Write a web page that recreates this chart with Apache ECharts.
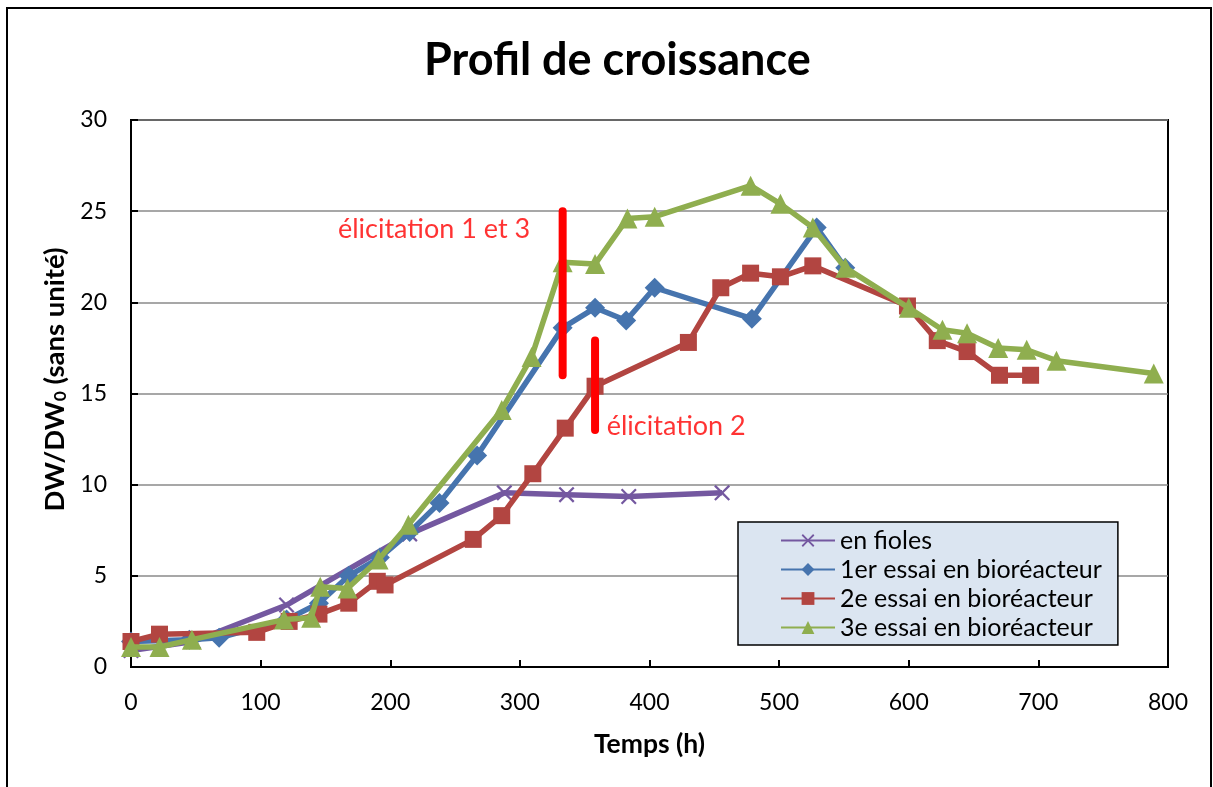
<!DOCTYPE html>
<html>
<head>
<meta charset="utf-8">
<script src="https://cdn.jsdelivr.net/npm/echarts@6/dist/echarts.min.js"></script>
<style>
  html, body { margin: 0; padding: 0; background: #fff; }
  #chart { width: 1213px; height: 787px; }
</style>
</head>
<body>
<div id="chart"></div>
<script>
// Growth profile: DW/DW0 versus time (h) for flasks and three bioreactor runs
const seriesNames = ['en fioles', '1er essai en bioréacteur', '2e essai en bioréacteur', '3e essai en bioréacteur'];

const tempsFioles = [0, 48, 120, 215, 288, 336, 384, 456];
const dwFioles    = [0.9, 1.4, 3.4, 7.3, 9.55, 9.45, 9.35, 9.55];

const tempsEssai1 = [0, 45, 68, 120, 145, 168, 192, 215, 238, 267, 333, 358, 382, 404, 479, 529, 551];
const dwEssai1    = [1.4, 1.5, 1.6, 2.6, 3.5, 5.0, 6.0, 7.4, 9.0, 11.6, 18.6, 19.7, 19.0, 20.8, 19.1, 24.1, 21.9];

const tempsEssai2 = [0, 22, 97, 122, 145, 168, 190, 196, 264, 286, 310, 335, 358, 430, 455, 478, 501, 526, 599, 622, 645, 670, 694];
const dwEssai2    = [1.4, 1.8, 1.9, 2.5, 2.9, 3.5, 4.7, 4.5, 7.0, 8.3, 10.6, 13.1, 15.4, 17.8, 20.8, 21.6, 21.4, 22.0, 19.8, 17.9, 17.3, 16.0, 16.0];

const tempsEssai3 = [0, 22, 47, 118, 139, 146, 167, 191, 214, 286, 309, 333, 358, 383, 404, 478, 501, 526, 551, 600, 626, 645, 669, 691, 714, 789];
const dwEssai3    = [1.1, 1.1, 1.5, 2.6, 2.7, 4.4, 4.3, 5.9, 7.8, 14.1, 17.0, 22.2, 22.1, 24.6, 24.7, 26.4, 25.4, 24.1, 21.9, 19.7, 18.5, 18.3, 17.5, 17.4, 16.8, 16.1];

// Elicitation markers (time, start value, end value)
const elicitation13 = { t: 333, from: 16.0, to: 25.0, label: 'élicitation 1 et 3', labelAt: [308, 24.0] };
const elicitation2  = { t: 358, from: 13.0, to: 17.9, label: 'élicitation 2', labelAt: [367, 13.2] };

const xTicks = { min: 0, max: 800, interval: 100 };
const yTicks = { min: 0, max: 30, interval: 5 };

const colors = ['#7458a0', '#4674ae', '#b24541', '#8fae4f'];
const FONT = 'Lato, "Liberation Sans", sans-serif';

const pairs = (xs, ys) => xs.map((x, i) => [x, ys[i]]);
const crossPath = 'path://M0,1 L1,0 L5,4 L9,0 L10,1 L6,5 L10,9 L9,10 L5,6 L1,10 L0,9 L4,5 Z';

function lineSeries(name, data, color, symbol, size, z) {
  return {
    name, type: 'line', data, z,
    symbol, symbolSize: size,
    itemStyle: { color },
    lineStyle: { color, width: 5.5 },
    emphasis: { disabled: true },
    animation: false
  };
}

function barSeries(m) {
  return {
    type: 'line', z: 10, silent: true, symbol: 'none', animation: false,
    data: [[m.t, m.from], [m.t, m.to]],
    lineStyle: { color: '#ff0000', width: 8, cap: 'round' }
  };
}

function noteSeries(m, pos) {
  return {
    type: 'scatter', z: 11, silent: true, symbolSize: 0, animation: false,
    data: [m.labelAt],
    label: {
      show: true, position: pos, distance: 0,
      formatter: m.label, color: '#ff0000',
      fontFamily: FONT, fontSize: 27
    }
  };
}

const chart = echarts.init(document.getElementById('chart'), null, { renderer: 'canvas' });

chart.setOption({
  backgroundColor: '#ffffff',
  animation: false,
  title: {
    text: 'Profil de croissance',
    left: 419, top: 33,
    textStyle: { fontFamily: FONT, fontSize: 45, fontWeight: 'bold', color: '#000' }
  },
  graphic: [{
    type: 'rect', silent: true,
    shape: { x: 7, y: 8, width: 1204, height: 800 },
    style: { fill: 'none', stroke: '#000', lineWidth: 2 }
  }],
  grid: {
    left: 131, right: 45, top: 120, bottom: 120,
    show: true, borderColor: '#000', borderWidth: 2, backgroundColor: 'transparent'
  },
  legend: {
    data: seriesNames,
    orient: 'vertical',
    left: 738, top: 522,
    backgroundColor: '#dbe5f1',
    borderColor: '#000', borderWidth: 1.5, borderRadius: 0,
    padding: [6, 16, 5, 42],
    itemWidth: 54, itemHeight: 16, itemGap: 4,
    selectedMode: false,
    textStyle: { fontFamily: FONT, fontSize: 25, color: '#000' }
  },
  xAxis: {
    type: 'value',
    min: xTicks.min, max: xTicks.max, interval: xTicks.interval,
    name: 'Temps (h)',
    nameLocation: 'middle', nameGap: 64,
    nameTextStyle: { fontFamily: FONT, fontSize: 26.5, fontWeight: 'bold', color: '#000' },
    axisLine: { lineStyle: { color: '#000', width: 2 } },
    axisTick: { inside: true, length: 7, lineStyle: { color: '#000', width: 2 } },
    axisLabel: { margin: 24, fontFamily: FONT, fontSize: 23, color: '#000' },
    splitLine: { show: false }
  },
  yAxis: {
    type: 'value',
    min: yTicks.min, max: yTicks.max, interval: yTicks.interval,
    name: '{b|DW/DW}{s|0}{b| (sans unité)}',
    nameLocation: 'middle', nameGap: 61, nameRotate: 90,
    nameTextStyle: {
      padding: [0, 0, 0, 28],
      rich: {
        b: { fontFamily: FONT, fontSize: 27.5, fontWeight: 'bold', color: '#000' },
        s: { fontFamily: FONT, fontSize: 17.5, fontWeight: 'bold', color: '#000', verticalAlign: 'bottom', padding: [10, 0, 0, 0] }
      }
    },
    axisLine: { show: true, lineStyle: { color: '#000', width: 2 } },
    axisTick: { show: true, inside: true, length: 7, lineStyle: { color: '#000', width: 2 } },
    axisLabel: { margin: 24, fontFamily: FONT, fontSize: 23, color: '#000' },
    splitLine: { show: true, lineStyle: { color: '#8a8a8a', width: 1.5 } }
  },
  series: [
    lineSeries(seriesNames[0], pairs(tempsFioles, dwFioles), colors[0], crossPath, 16, 2),
    lineSeries(seriesNames[1], pairs(tempsEssai1, dwEssai1), colors[1], 'diamond', 20, 3),
    lineSeries(seriesNames[2], pairs(tempsEssai2, dwEssai2), colors[2], 'rect', 17, 4),
    lineSeries(seriesNames[3], pairs(tempsEssai3, dwEssai3), colors[3], 'triangle', 20, 5),
    barSeries(elicitation13),
    barSeries(elicitation2),
    noteSeries(elicitation13, 'left'),
    noteSeries(elicitation2, 'right')
  ]
});
</script>
</body>
</html>
